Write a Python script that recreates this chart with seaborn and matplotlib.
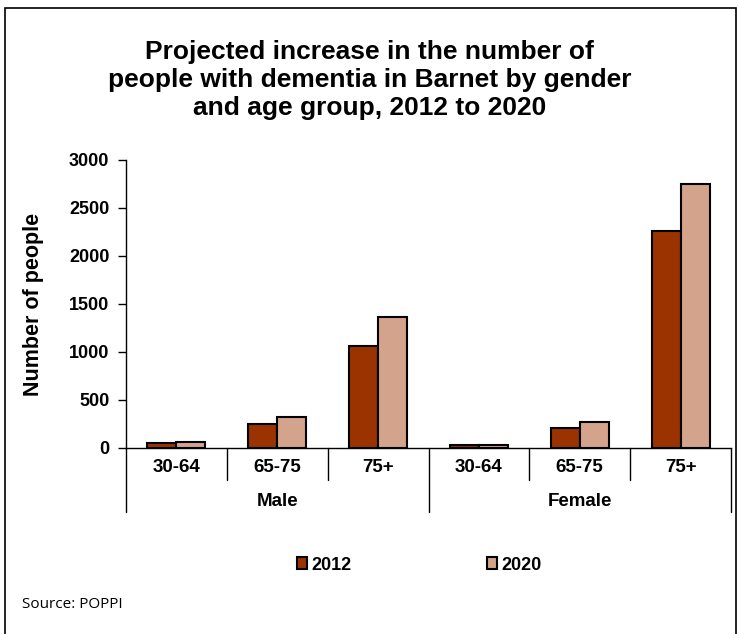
import matplotlib
matplotlib.use("Agg")
import matplotlib.pyplot as plt
import matplotlib.transforms as mtransforms
from matplotlib.patches import Rectangle
import seaborn as sns
import pandas as pd

genders = ["Male", "Female"]
age_groups = ["30-64", "65-75", "75+"]
years = ["2012", "2020"]
values_2012 = [50, 247, 1064, 35, 212, 2263]
values_2020 = [62, 323, 1366, 35, 268, 2753]
colors = ["#9A3300", "#D4A38B"]
yticks = [0, 500, 1000, 1500, 2000, 2500, 3000]

cats = [f"{g} {a}" for g in genders for a in age_groups]
rows = []
for c, v in zip(cats, values_2012):
    rows.append({"cat": c, "year": years[0], "value": v})
for c, v in zip(cats, values_2020):
    rows.append({"cat": c, "year": years[1], "value": v})
df = pd.DataFrame(rows)

sns.set_theme(style="white")
plt.rcParams["font.family"] = ["Liberation Sans", "DejaVu Sans"]
plt.rcParams["text.color"] = "black"
plt.rcParams["axes.labelcolor"] = "black"
plt.rcParams["xtick.color"] = "black"
plt.rcParams["ytick.color"] = "black"

fig = plt.figure(figsize=(7.39, 6.34), dpi=100)
ax = fig.add_axes([126/739, 1-448/634, (731-126)/739, 288/634])

sns.barplot(data=df, x="cat", y="value", hue="year", order=cats,
            hue_order=years, palette=colors, width=0.575,
            edgecolor="black", linewidth=1.5, ax=ax, saturation=1)

handles, labels = ax.get_legend_handles_labels()
if ax.get_legend() is not None:
    ax.get_legend().remove()

ax.set_xlim(-0.5, len(cats) - 0.5)
ax.set_ylim(0, 3000)
ax.set_yticks(yticks)
ax.set_yticklabels([str(t) for t in yticks], fontsize=13, fontweight="bold")
ax.tick_params(axis="y", direction="out", length=6, width=1, color="black", left=True, pad=6)
ax.set_xticks(range(len(cats)))
ax.set_xticklabels(age_groups * len(genders), fontsize=13.5, fontweight="bold")
ax.tick_params(axis="x", length=0, pad=8)
ax.set_xlabel("")
ax.set_ylabel("Number of people", fontsize=15.5, fontweight="bold", labelpad=18)

for s in ["top", "right"]:
    ax.spines[s].set_visible(False)
ax.spines["left"].set_color("black")
ax.spines["bottom"].set_color("black")
ax.spines["left"].set_linewidth(1)
ax.spines["bottom"].set_linewidth(1)

trans = mtransforms.blended_transform_factory(ax.transData, ax.transAxes)
n_age = len(age_groups)
for k in range(len(cats) + 1):
    x = k - 0.5
    y0 = -64/288 if k % n_age == 0 else -32/288
    ax.plot([x, x], [0, y0], color="black", lw=1, transform=trans, clip_on=False)
for i, g in enumerate(genders):
    ax.text(i * n_age + (n_age - 1) / 2, -53/288, g, transform=trans,
            ha="center", va="center", fontsize=13.5, fontweight="bold")

fig.text(0.5, 1-80/634, "Projected increase in the number of\npeople with dementia in Barnet by gender\nand age group, 2012 to 2020",
         ha="center", va="center", fontsize=19, fontweight="bold", linespacing=1.2)

leg = fig.legend(handles, labels, loc="center", bbox_to_anchor=(419/739, 1-565/634),
                 ncol=2, frameon=False, handlelength=0.6, handleheight=0.6,
                 handletextpad=0.2, columnspacing=7.5,
                 prop={"weight": "bold", "size": 13})

fig.text(22/739, 1-604/634, "Source: POPPI", ha="left", va="center",
         fontsize=11, family=["Open Sans", "DejaVu Sans"])

fig.add_artist(Rectangle((5/739, -0.05), (736-5)/739, 1.05 - 8/634,
                         transform=fig.transFigure, fill=False,
                         edgecolor="black", lw=1.2))

fig.savefig("out.png", dpi=100)
